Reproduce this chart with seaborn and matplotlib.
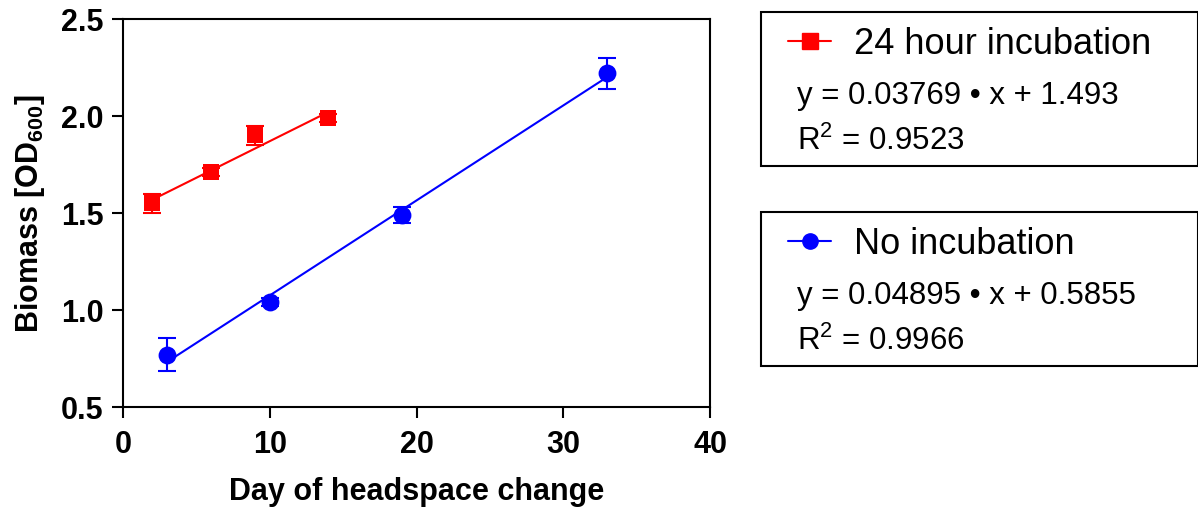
import matplotlib
matplotlib.use("Agg")
import matplotlib.pyplot as plt
import seaborn as sns
import numpy as np
from matplotlib.patches import Rectangle
from matplotlib.lines import Line2D

# Data
days_24h = [2, 6, 9, 14]
biomass_24h = [1.55, 1.71, 1.90, 1.99]
err_24h = [0.05, 0.02, 0.05, 0.02]
slope_24h, icpt_24h = 0.03769, 1.493
label_24h = "24 hour incubation"
eq_24h = "y = 0.03769 \u2022 x + 1.493"
r2_24h = "R$^{2}$ = 0.9523"

days_no = [3, 10, 19, 33]
biomass_no = [0.77, 1.04, 1.49, 2.22]
err_no = [0.085, 0.02, 0.04, 0.08]
slope_no, icpt_no = 0.04895, 0.5855
label_no = "No incubation"
eq_no = "y = 0.04895 \u2022 x + 0.5855"
r2_no = "R$^{2}$ = 0.9966"

xticks = [0, 10, 20, 30, 40]
yticks = [0.5, 1.0, 1.5, 2.0, 2.5]

sns.set_theme(style="ticks")
fam = ['Liberation Sans', 'DejaVu Sans']
plt.rcParams['font.family'] = fam
plt.rcParams['mathtext.fontset'] = 'custom'
plt.rcParams['mathtext.rm'] = 'Liberation Sans'
plt.rcParams['mathtext.bf'] = 'Liberation Sans:bold'
plt.rcParams['mathtext.default'] = 'rm'

fig = plt.figure(figsize=(11.98, 5.10), dpi=100)
ax = fig.add_axes([0.1027, 0.2, 0.49, 0.761])

red = '#ff0000'
blue = '#0000ff'

for xs, ys, es, m, c, s, b in [
    (days_24h, biomass_24h, err_24h, 's', red, slope_24h, icpt_24h),
    (days_no, biomass_no, err_no, 'o', blue, slope_no, icpt_no),
]:
    xf = np.array([min(xs), max(xs)], dtype=float)
    ax.plot(xf, s * xf + b, color=c, lw=1.5, zorder=2)
    ax.errorbar(xs, ys, yerr=es, fmt='none', ecolor=c, elinewidth=1.5,
                capsize=6.5, capthick=1.5, zorder=3)
    sns.scatterplot(x=xs, y=ys, marker=m, color=c, s=140 if m == 's' else 165,
                    edgecolor=c, linewidth=0, ax=ax, zorder=4)

ax.set_xlim(0, 40)
ax.set_ylim(0.5, 2.5)
ax.set_xticks(xticks)
ax.set_yticks(yticks)
ax.set_xticklabels([str(t) for t in xticks])
ax.set_yticklabels([f"{t:.1f}" for t in yticks])
for lab in ax.get_xticklabels() + ax.get_yticklabels():
    lab.set_fontweight('bold')
    lab.set_fontsize(22)
    lab.set_color('black')
ax.tick_params(axis='x', direction='out', length=8, width=1.5, colors='black', pad=8)
ax.tick_params(axis='y', direction='out', length=8, width=1.5, colors='black', pad=6)
for sp in ax.spines.values():
    sp.set_linewidth(1.5)
    sp.set_color('black')
    sp.set_visible(True)

ax.set_xlabel("Day of headspace change", fontweight='bold',
              fontsize=22, color='black', labelpad=12)
ax.set_ylabel(r"Biomass [OD$_{\mathbf{600}}$]", fontweight='bold',
              fontsize=22, color='black', labelpad=10)

# Legend boxes
W, H = 1198.0, 510.0
def box(top_px, color, marker, label, eq, r2):
    fig.patches.append(Rectangle((761 / W, 1 - (top_px + 154) / H), 437 / W, 154 / H,
                                 transform=fig.transFigure, fill=False,
                                 edgecolor='black', lw=1.5))
    yl = 1 - (top_px + 29) / H
    fig.lines.append(Line2D([788 / W, 831 / W], [yl, yl], transform=fig.transFigure,
                            color=color, lw=1.5))
    fig.lines.append(Line2D([809.5 / W], [yl], transform=fig.transFigure,
                            color=color, marker=marker, markersize=11,
                            linestyle='none'))
    fig.text(854 / W, 1 - (top_px + 31) / H, label, fontsize=26, va='center', ha='left', color='black')
    fig.text(797 / W, 1 - (top_px + 83) / H, eq, fontsize=22.5, va='center', ha='left', color='black')
    fig.text(797 / W, 1 - (top_px + 128) / H, r2, fontsize=22.5, va='center', ha='left', color='black')

box(13, red, 's', label_24h, eq_24h, r2_24h)
box(213, blue, 'o', label_no, eq_no, r2_no)

fig.savefig("out.png", dpi=100)
